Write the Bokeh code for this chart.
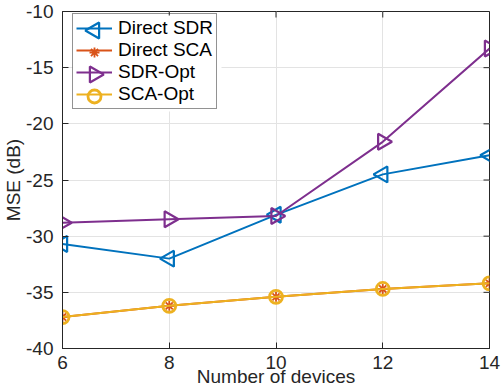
import math
from bokeh.plotting import figure
from bokeh.models import Legend, LegendItem, FixedTicker, Range1d
from bokeh.embed import file_html
from bokeh.resources import INLINE

devices = [6, 8, 10, 12, 14]
direct_sdr = [-30.7, -32.0, -28.1, -24.5, -22.8]
direct_sca = [-37.2, -36.2, -35.4, -34.7, -34.2]
sdr_opt = [-28.8, -28.5, -28.2, -21.6, -13.3]
sca_opt = [-37.2, -36.2, -35.4, -34.7, -34.2]
x_ticks = [6, 8, 10, 12, 14]
y_ticks = [-40, -35, -30, -25, -20, -15, -10]
series_names = ["Direct SDR", "Direct SCA", "SDR-Opt", "SCA-Opt"]
x_title = "Number of devices"
y_title = "MSE (dB)"

FONT = "Liberation Sans"
FS = "19px"
TXT = "#262626"
W, H = 502, 392
BL, BR, BT, BB = 62, 13, 11, 44
FW, FH = W - BL - BR, H - BT - BB
X0, X1, Y0, Y1 = 6, 14, -40, -10
TICK = 6


def kx(px):
    """frame-relative pixel x -> data x"""
    return X0 + px / FW * (X1 - X0)


def ky(py):
    """frame-relative pixel y (down from frame top) -> data y"""
    return Y1 - py / FH * (Y1 - Y0)


p = figure(width=W, height=H, output_backend="svg", toolbar_location=None,
           x_range=Range1d(X0, X1), y_range=Range1d(Y0, Y1),
           min_border_left=BL, min_border_right=BR, min_border_top=BT, min_border_bottom=BB)
p.outline_line_color = TXT
p.outline_line_width = 1
p.background_fill_color = "white"
p.border_fill_color = "white"

for ax in (p.xaxis[0], p.yaxis[0]):
    ax.major_tick_in = TICK
    ax.major_tick_out = 0
    ax.minor_tick_line_color = None
    ax.axis_line_color = TXT
    ax.major_tick_line_color = TXT
    ax.major_label_text_font = FONT
    ax.major_label_text_font_size = FS
    ax.major_label_text_color = TXT
    ax.axis_label_text_font = FONT
    ax.axis_label_text_font_size = FS
    ax.axis_label_text_font_style = "normal"
    ax.axis_label_text_color = TXT

p.xaxis.ticker = FixedTicker(ticks=x_ticks)
p.yaxis.ticker = FixedTicker(ticks=y_ticks)
p.xaxis.major_label_overrides = {t: str(t) for t in x_ticks}
p.yaxis.major_label_overrides = {t: str(t) for t in y_ticks}
p.xaxis.axis_label = x_title
p.yaxis.axis_label = y_title
p.xaxis.major_label_standoff = 7
p.xaxis.axis_label_standoff = -6
p.yaxis.major_label_standoff = 9
p.yaxis.axis_label_standoff = -1

p.xgrid.ticker = FixedTicker(ticks=x_ticks)
p.ygrid.ticker = FixedTicker(ticks=y_ticks)
p.grid.grid_line_color = "#e3e3e3"
p.grid.grid_line_width = 1

# box ticks on the top and right edges (inward, like the bottom/left ones)
p.segment(x0=x_ticks, x1=x_ticks, y0=[Y1] * len(x_ticks), y1=[ky(TICK)] * len(x_ticks),
          line_color=TXT, line_width=1)
p.segment(x0=[X1] * len(y_ticks), x1=[kx(FW - TICK)] * len(y_ticks), y0=y_ticks, y1=y_ticks,
          line_color=TXT, line_width=1)

BLUE = "#0072BD"
ORANGE = "#D95319"
PURPLE = "#7E2F8E"
YELLOW = "#EDB120"

TRI = dict(marker="triangle", size=16, fill_color=None, line_width=2.2)
AST = dict(marker="asterisk", size=10, line_color=ORANGE, line_width=1.8)
CIR = dict(marker="circle", size=13, fill_color=None, line_color=YELLOW, line_width=2.8)

# legend geometry (pixels, relative to the frame's top-left corner)
LEG_X, LEG_TOP = 10, 4
PAD, GW, RH = 3, 36, 22
LEG_W = 149
LEG_H = 2 * PAD + 4 * RH + 2

# opaque legend background (drawn over the grid, under the legend keys)
p.quad(left=[kx(LEG_X)], right=[kx(LEG_X + LEG_W)], top=[ky(LEG_TOP)],
       bottom=[ky(LEG_TOP + LEG_H)], fill_color="white", line_color=None)

l1 = p.line(devices, direct_sdr, line_color=BLUE, line_width=2)
p.scatter(devices, direct_sdr, angle=math.pi / 2, line_color=BLUE, **TRI)
l2 = p.line(devices, direct_sca, line_color=ORANGE, line_width=2)
p.scatter(devices, direct_sca, **AST)
l3 = p.line(devices, sdr_opt, line_color=PURPLE, line_width=2)
p.scatter(devices, sdr_opt, angle=-math.pi / 2, line_color=PURPLE, **TRI)
l4 = p.line(devices, sca_opt, line_color=YELLOW, line_width=2)
p.scatter(devices, sca_opt, **CIR)

# legend key markers
key_x = kx(LEG_X + 1 + PAD + GW / 2)
key_y = [ky(LEG_TOP + 1 + PAD + RH * (i + 0.5)) for i in range(4)]
p.scatter([key_x], [key_y[0]], angle=math.pi / 2, line_color=BLUE, **TRI)
p.scatter([key_x], [key_y[1]], **AST)
p.scatter([key_x], [key_y[2]], angle=-math.pi / 2, line_color=PURPLE, **TRI)
p.scatter([key_x], [key_y[3]], **CIR)

legend = Legend(items=[LegendItem(label=n, renderers=[r]) for n, r in
                       zip(series_names, [l1, l2, l3, l4])],
                location=(LEG_X, FH - LEG_TOP - LEG_H + 2))
legend.label_text_font = FONT
legend.label_text_font_size = FS
legend.label_text_color = "black"
legend.border_line_color = TXT
legend.border_line_width = 1
legend.background_fill_alpha = 0
legend.glyph_width = GW
legend.glyph_height = RH
legend.label_standoff = 6
legend.label_height = RH
legend.label_width = 90
legend.spacing = 0
legend.padding = PAD
legend.margin = 0
legend.label_text_baseline = "middle"
p.add_layout(legend)

open("out.html", "w").write(file_html(p, INLINE))
